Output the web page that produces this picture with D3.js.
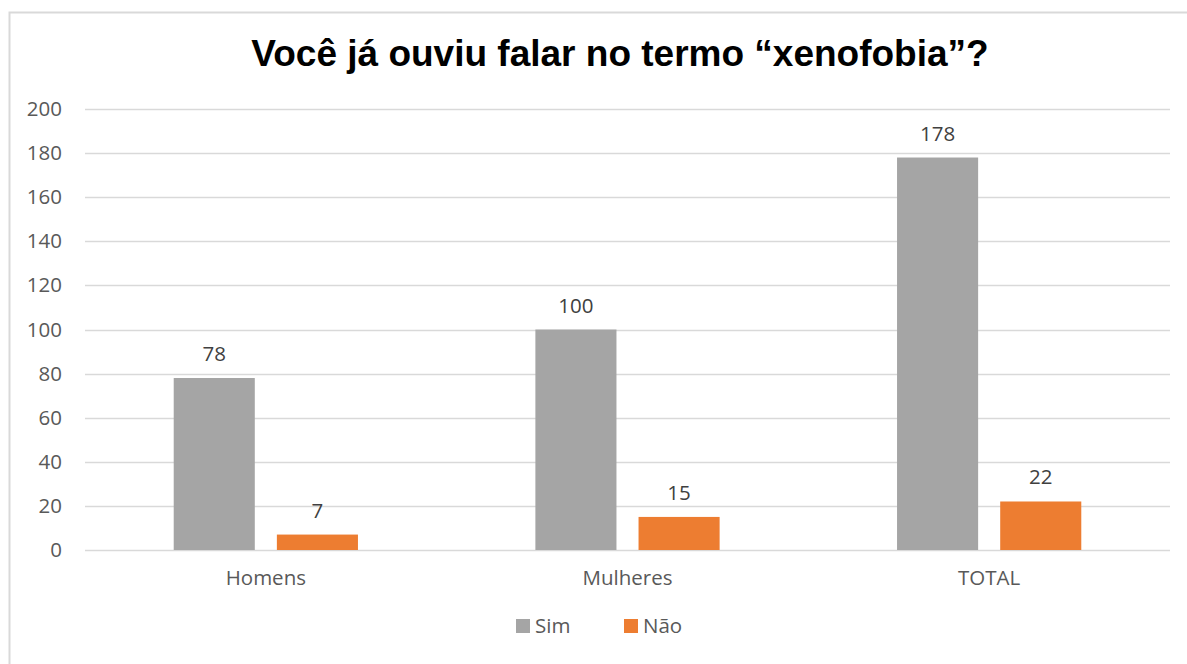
<!DOCTYPE html>
<html>
<head>
<meta charset="utf-8">
<script src="https://cdn.jsdelivr.net/npm/d3@7"></script>
<style>
  body { margin: 0; background: #fff; }
  svg { display: block; }
</style>
</head>
<body>
<script>
const categories = ['Homens', 'Mulheres', 'TOTAL'];
const seriesNames = ['Sim', 'Não'];
const simValues = [78, 100, 178];
const naoValues = [7, 15, 22];
const yTicks = [0, 20, 40, 60, 80, 100, 120, 140, 160, 180, 200];
const colors = ['#a5a5a5', '#ed7d31'];

const width = 1187, height = 664;
const margin = { left: 85, right: 17, top: 109, bottom: 114 };
const font = '"Open Sans", Lato, sans-serif';
const fontSize = '20.5px';

const svg = d3.select('body').append('svg')
    .attr('width', width)
    .attr('height', height);

// chart frame
svg.append('path')
    .attr('d', `M9.5,${height} V12.5 H${width}`)
    .attr('fill', 'none')
    .attr('stroke', '#d9d9d9')
    .attr('stroke-width', 2);

svg.append('text')
    .attr('x', 620)
    .attr('y', 66)
    .attr('text-anchor', 'middle')
    .style('font-family', '"Liberation Sans", Arial, sans-serif')
    .style('font-weight', 'bold')
    .style('font-size', '37px')
    .style('fill', '#000')
    .text('Você já ouviu falar no termo “xenofobia”?');

const x0 = d3.scaleBand()
    .domain(categories)
    .range([margin.left, width - margin.right]);

const x1 = d3.scaleBand()
    .domain(seriesNames)
    .range([0, x0.bandwidth()])
    .paddingInner(0.214)
    .paddingOuter(0.86);

const y = d3.scaleLinear()
    .domain([0, 200])
    .range([height - margin.bottom, margin.top]);

// gridlines
svg.append('g')
    .selectAll('line')
    .data(yTicks)
    .enter()
    .append('line')
    .attr('x1', margin.left)
    .attr('x2', width - margin.right)
    .attr('y1', d => Math.round(y(d)) + 0.5)
    .attr('y2', d => Math.round(y(d)) + 0.5)
    .attr('stroke', '#d9d9d9')
    .attr('stroke-width', 1.5);

// y axis labels
const yAxis = svg.append('g')
    .attr('transform', `translate(${margin.left - 23},0)`)
    .call(d3.axisLeft(y).tickValues(yTicks).tickSize(0).tickPadding(0));
yAxis.select('.domain').remove();
yAxis.selectAll('text')
    .style('font-family', font)
    .style('font-size', fontSize)
    .style('fill', '#595959');

const rows = categories.map((c, i) => ({ cat: c, values: [simValues[i], naoValues[i]] }));

const groups = svg.selectAll('g.cat')
    .data(rows)
    .enter()
    .append('g')
    .attr('class', 'cat')
    .attr('transform', d => `translate(${x0(d.cat)},0)`);

groups.selectAll('rect')
    .data(d => d.values.map((v, j) => ({ name: seriesNames[j], value: v, j })))
    .enter()
    .append('rect')
    .attr('x', d => x1(d.name))
    .attr('width', x1.bandwidth())
    .attr('y', d => y(d.value))
    .attr('height', d => y(0) - y(d.value))
    .attr('fill', d => colors[d.j]);

groups.selectAll('text.val')
    .data(d => d.values.map((v, j) => ({ name: seriesNames[j], value: v })))
    .enter()
    .append('text')
    .attr('class', 'val')
    .attr('x', d => x1(d.name) + x1.bandwidth() / 2)
    .attr('y', d => y(d.value) - 17)
    .attr('text-anchor', 'middle')
    .style('font-family', font)
    .style('font-size', fontSize)
    .style('fill', '#404040')
    .text(d => d.value);

// category axis labels
const xAxis = svg.append('g')
    .attr('transform', `translate(0,${y(0) + 20})`)
    .call(d3.axisBottom(x0).tickSize(0).tickPadding(0));
xAxis.select('.domain').remove();
xAxis.selectAll('text')
    .style('font-family', font)
    .style('font-size', fontSize)
    .style('fill', '#595959');

// legend
const legendX = [516, 624];
const legend = svg.selectAll('g.legend')
    .data(seriesNames)
    .enter()
    .append('g')
    .attr('class', 'legend')
    .attr('transform', (d, i) => `translate(${legendX[i]},619)`);

legend.append('rect')
    .attr('width', 14)
    .attr('height', 14)
    .attr('fill', (d, i) => colors[i]);

legend.append('text')
    .attr('x', 19)
    .attr('y', 14)
    .style('font-family', font)
    .style('font-size', fontSize)
    .style('fill', '#595959')
    .text(d => d);
</script>
</body>
</html>
